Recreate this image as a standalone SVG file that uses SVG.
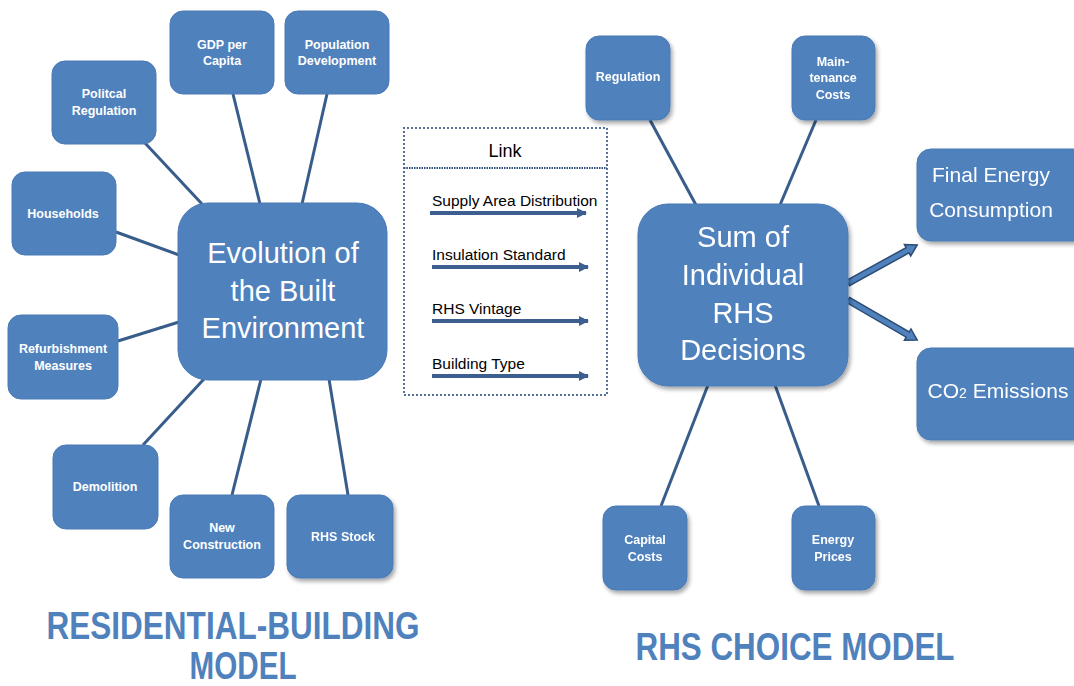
<svg xmlns="http://www.w3.org/2000/svg" width="1074" height="686" viewBox="0 0 1074 686">
<defs>
<filter id="sh" x="-20%" y="-20%" width="140%" height="140%">
<feGaussianBlur in="SourceAlpha" stdDeviation="2"/>
<feOffset dx="1.5" dy="2.5" result="b"/>
<feComponentTransfer><feFuncA type="linear" slope="0.35"/></feComponentTransfer>
<feMerge><feMergeNode/><feMergeNode in="SourceGraphic"/></feMerge>
</filter>
<marker id="ah" viewBox="0 0 10 10" refX="9" refY="5" markerWidth="2.6" markerHeight="2.8" orient="auto" markerUnits="strokeWidth">
<path d="M0,0 L10,5 L0,10 z" fill="#3C5F8F"/>
</marker>
</defs>
<style>
.n{fill:#4F81BD;stroke:#4A7AB5;stroke-width:1}
.t{font-family:"Liberation Sans",Arial,sans-serif;font-weight:bold;font-size:12.5px;fill:#fff;text-anchor:middle}
.big{font-family:"Liberation Sans",Arial,sans-serif;font-size:29px;fill:#fff;text-anchor:middle}
.mid{font-family:"Liberation Sans",Arial,sans-serif;font-size:21px;fill:#fff;text-anchor:middle}
.c line{stroke:#385D8A;stroke-width:3}
.lk{font-family:"Liberation Sans",Arial,sans-serif;font-size:15.5px;fill:#000}
.la{stroke:#3C5F8F;stroke-width:4;marker-end:url(#ah)}
.ttl{font-family:"Liberation Sans",Arial,sans-serif;font-weight:bold;font-size:38px;fill:#4F81BD;text-anchor:middle}
.ba{fill:#4F81BD;stroke:#2C4D75;stroke-width:1.5}
</style>
<rect width="1074" height="686" fill="#fff"/>

<g class="c" id="connectors">
<line x1="145" y1="143" x2="202" y2="204"/>
<line x1="233" y1="94" x2="260" y2="204"/>
<line x1="327" y1="94" x2="302" y2="204"/>
<line x1="116" y1="232" x2="179" y2="255"/>
<line x1="118" y1="341" x2="179" y2="322"/>
<line x1="143" y1="445" x2="204" y2="379"/>
<line x1="232" y1="495" x2="261" y2="379"/>
<line x1="348" y1="495" x2="329" y2="379"/>
<line x1="650" y1="120" x2="696" y2="205"/>
<line x1="816" y1="120" x2="780" y2="205"/>
<line x1="661" y1="506" x2="708" y2="385"/>
<line x1="819" y1="506" x2="775" y2="385"/>
<polygon class="ba" transform="translate(848,283) rotate(-28.8)" points="0,-3 68,-3 68,-6.5 79,0 68,6.5 68,3 0,3"/>
<polygon class="ba" transform="translate(848,300) rotate(30.1)" points="0,-3 69,-3 69,-6.5 80,0 69,6.5 69,3 0,3"/>
</g>

<g id="gdp"><rect class="n" x="170" y="11" width="104" height="83" rx="13"/><text class="t" x="222" y="49">GDP per</text><text class="t" x="222" y="65">Capita</text></g>
<g id="population"><rect class="n" x="285" y="11" width="104" height="83" rx="13"/><text class="t" x="337" y="49">Population</text><text class="t" x="337" y="65">Development</text></g>
<g id="political"><rect class="n" x="52" y="61" width="104" height="83" rx="13"/><text class="t" x="104" y="98">Politcal</text><text class="t" x="104" y="115">Regulation</text></g>
<g id="households"><rect class="n" x="12" y="172" width="104" height="83" rx="13"/><text class="t" x="63" y="218">Households</text></g>
<g id="refurbishment"><rect class="n" x="8" y="315" width="110" height="84" rx="13"/><text class="t" x="63" y="353">Refurbishment</text><text class="t" x="63" y="370">Measures</text></g>
<g id="demolition"><rect class="n" x="53" y="445" width="105" height="84" rx="13"/><text class="t" x="105" y="491">Demolition</text></g>
<g id="newconstruction"><rect class="n" x="170" y="495" width="104" height="83" rx="13"/><text class="t" x="222" y="532">New</text><text class="t" x="222" y="549">Construction</text></g>
<g id="rhsstock" filter="url(#sh)"><rect class="n" x="287" y="495" width="106" height="83" rx="13"/><text class="t" x="343" y="541">RHS Stock</text></g>

<g id="evolution"><rect class="n" x="178" y="203" width="209" height="177" rx="30"/>
<text class="big" x="283" y="263">Evolution of</text><text class="big" x="283" y="301">the Built</text><text class="big" x="283" y="338">Environment</text></g>

<g id="link">
<rect x="404" y="128" width="203" height="267" fill="none" stroke="#2F4F80" stroke-width="2.2" stroke-dasharray="0 4" stroke-linecap="round"/>
<line x1="404" y1="168" x2="607" y2="168" stroke="#2F4F80" stroke-width="2" stroke-dasharray="1.5 1"/>
<text x="505" y="157" font-family="Liberation Sans,Arial,sans-serif" font-size="18" text-anchor="middle" fill="#000">Link</text>
<text class="lk" x="432" y="206">Supply Area Distribution</text>
<line class="la" x1="430" y1="213" x2="586" y2="213"/>
<text class="lk" x="432" y="260">Insulation Standard</text>
<line class="la" x1="432" y1="267" x2="588" y2="267"/>
<text class="lk" x="432" y="314">RHS Vintage</text>
<line class="la" x1="432" y1="321" x2="588" y2="321"/>
<text class="lk" x="432" y="369">Building Type</text>
<line class="la" x1="432" y1="376" x2="588" y2="376"/>
</g>

<g filter="url(#sh)">
<g id="regulation"><rect class="n" x="586" y="36" width="84" height="84" rx="13"/><text class="t" x="628" y="81">Regulation</text></g>
<g id="maintenance"><rect class="n" x="792" y="36" width="83" height="84" rx="13"/><text class="t" x="833" y="66">Main-</text><text class="t" x="833" y="82">tenance</text><text class="t" x="833" y="99">Costs</text></g>
<g id="capital"><rect class="n" x="603" y="506" width="84" height="84" rx="13"/><text class="t" x="645" y="544">Capital</text><text class="t" x="645" y="561">Costs</text></g>
<g id="energyprices"><rect class="n" x="792" y="506" width="83" height="84" rx="13"/><text class="t" x="833" y="544">Energy</text><text class="t" x="833" y="561">Prices</text></g>
<g id="sum"><rect class="n" x="638" y="204" width="210" height="182" rx="30"/>
<text class="big" x="743" y="247">Sum of</text><text class="big" x="743" y="285">Individual</text><text class="big" x="743" y="323">RHS</text><text class="big" x="743" y="360">Decisions</text></g>
<g id="finalenergy"><rect class="n" x="917" y="149" width="170" height="92" rx="14"/><text class="mid" x="991" y="182">Final Energy</text><text class="mid" x="991" y="217">Consumption</text></g>
<g id="co2"><rect class="n" x="917" y="348" width="170" height="92" rx="14"/><text class="mid" x="998" y="398">CO<tspan font-size="14">2</tspan> Emissions</text></g>
</g>

<g id="titles">
<text class="ttl" x="233" y="639" textLength="373" lengthAdjust="spacingAndGlyphs">RESIDENTIAL-BUILDING</text>
<text class="ttl" x="243" y="679" textLength="107" lengthAdjust="spacingAndGlyphs">MODEL</text>
<text class="ttl" x="795" y="660" textLength="319" lengthAdjust="spacingAndGlyphs">RHS CHOICE MODEL</text>
</g>
</svg>
